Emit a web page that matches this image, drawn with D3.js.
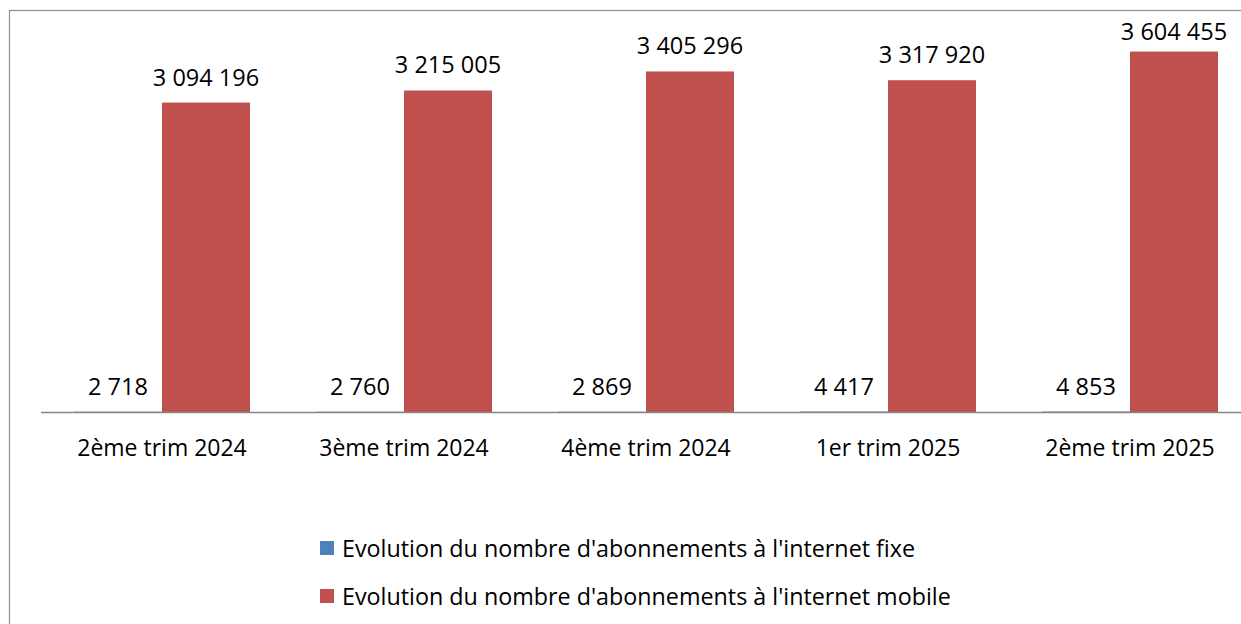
<!DOCTYPE html>
<html>
<meta charset="utf-8">
<head>
<script src="https://d3js.org/d3.v7.min.js"></script>
<style>
    body { margin: 0; background: #fff; }
    text { font-family: "Open Sans", "Noto Sans", sans-serif; fill: #000; }
</style>
</head>
<body>
<div id="chart"></div>
<script>
// data
var categories = ["2ème trim 2024", "3ème trim 2024", "4ème trim 2024", "1er trim 2025", "2ème trim 2025"];
var fixe = [2718, 2760, 2869, 4417, 4853];
var mobile = [3094196, 3215005, 3405296, 3317920, 3604455];
var seriesNames = ["Evolution du nombre d'abonnements à l'internet fixe",
                   "Evolution du nombre d'abonnements à l'internet mobile"];
var colors = ["#4F81BD", "#C0504D"];

var W = 1241, H = 624;
var fmt = function(v) { return d3.format(",")(v).replace(/,/g, " "); };

var svg = d3.select("#chart").append("svg")
    .attr("width", W)
    .attr("height", H);

// outer chart frame (cut off on right and bottom)
svg.append("rect")
    .attr("x", 9.5).attr("y", 10.5)
    .attr("width", 1300).attr("height", 700)
    .attr("fill", "none")
    .attr("stroke", "#8c8c8c")
    .attr("stroke-width", 1.2);

// scales
var x = d3.scaleBand().domain(categories).range([41, 41 + 242 * 5]).paddingInner(0).paddingOuter(0);
var inner = d3.scaleBand().domain([0, 1]).range([33, 242 - 33]);
var y = d3.scaleLinear().domain([0, 4000000]).range([412, 12]);

var groups = svg.selectAll("g.cat")
    .data(categories)
    .enter().append("g")
    .attr("class", "cat")
    .attr("transform", function(d) { return "translate(" + x(d) + ",0)"; });

// bars
[fixe, mobile].forEach(function(series, s) {
    groups.append("rect")
        .attr("x", inner(s))
        .attr("width", inner.bandwidth())
        .attr("y", function(d, i) { return y(series[i]); })
        .attr("height", function(d, i) { return y(0) - y(series[i]); })
        .attr("fill", colors[s]);

    // labels are kept inside the plot area, like the original
    groups.append("text")
        .attr("x", inner(s) + inner.bandwidth() / 2)
        .attr("y", function(d, i) { return Math.max(y(series[i]) - 17, 40); })
        .attr("text-anchor", "middle")
        .style("font-size", "23.5px")
        .text(function(d, i) { return fmt(series[i]); });
});

// x axis
svg.append("line")
    .attr("x1", 41).attr("x2", W)
    .attr("y1", 412.5).attr("y2", 412.5)
    .attr("stroke", "#868686")
    .attr("stroke-width", 1.5);

groups.append("text")
    .attr("x", x.bandwidth() / 2)
    .attr("y", 456)
    .attr("text-anchor", "middle")
    .style("font-size", "23px")
    .text(function(d) { return d; });

// legend
var legend = svg.selectAll("g.legend")
    .data(seriesNames)
    .enter().append("g")
    .attr("class", "legend")
    .attr("transform", function(d, i) { return "translate(320," + (548 + i * 48) + ")"; });

legend.append("rect")
    .attr("x", 0).attr("y", -7)
    .attr("width", 14).attr("height", 14)
    .attr("fill", function(d, i) { return colors[i]; });

legend.append("text")
    .attr("x", 22)
    .attr("y", 8.5)
    .style("font-size", "23.3px")
    .text(function(d) { return d; });
</script>
</body>
</html>
